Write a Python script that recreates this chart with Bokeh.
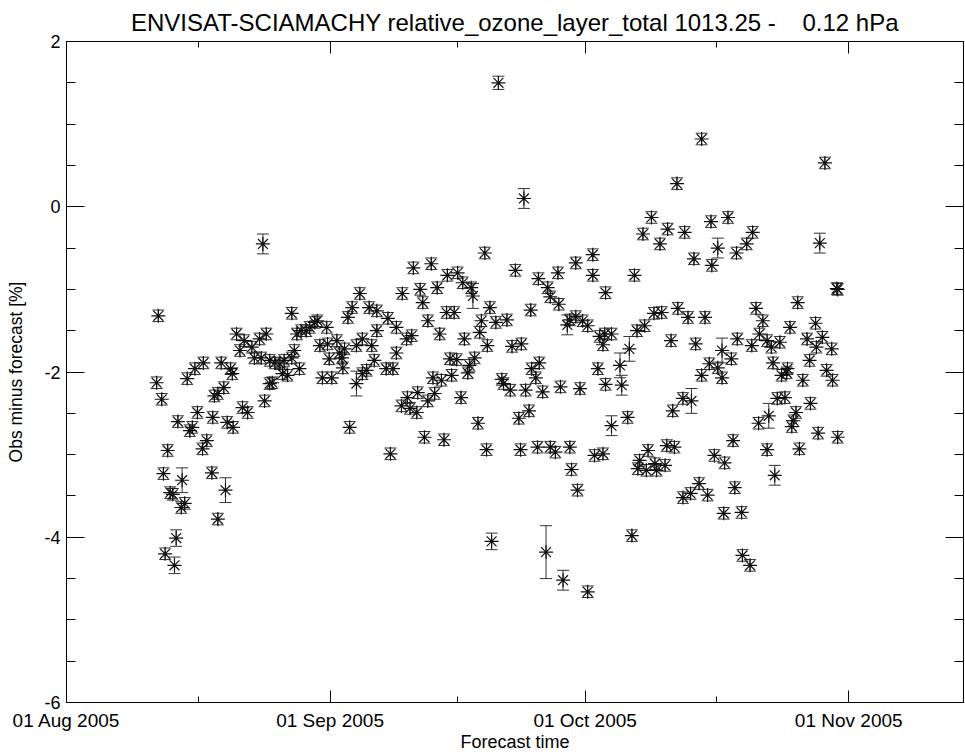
from datetime import datetime, timedelta
from bokeh.plotting import figure
from bokeh.models import (Range1d, FixedTicker, DatetimeTickFormatter, LinearAxis, DatetimeAxis,
                          ColumnDataSource, Whisker, TeeHead)
from bokeh.embed import file_html
from bokeh.resources import INLINE

# ---------------- data (days after 01 Aug 2005, obs-minus-forecast [%], error) ----------------
day_a = [10.8, 10.6, 11.2, 13.1, 11.9, 11.4, 13.6, 12.2, 12.5, 13.5, 13.9, 12.9, 11.6, 12.7, 15.4,
         14.5, 14.8, 16.5, 16.0, 17.1, 18.7, 17.8, 17.2, 18.9, 19.6, 14.2, 15.1, 16.1, 18.2, 19.3,
         19.5, 17.4, 17.8, 18.5, 20.7, 21.3, 20.0, 20.4, 20.9, 21.8, 22.1, 22.7]
omf_a = [-1.32, -2.13, -2.33, -2.60, -2.95, -3.23, -3.31, -3.46, -3.48, -3.64, -3.59, -4.01, -4.20,
         -4.34, -2.49, -2.71, -2.67, -2.83, -2.93, -3.22, -3.43, -3.78, -2.55, -2.61, -2.67, -2.08,
         -1.96, -1.89, -1.89, -1.96, -2.02, -2.29, -2.26, -2.19, -2.43, -2.49, -1.54, -1.74, -1.62,
         -1.70, -1.83, -1.60]
err_a = [0.07, 0.07, 0.07, 0.07, 0.07, 0.07, 0.15, 0.07, 0.07, 0.07, 0.07, 0.10, 0.07, 0.10, 0.07,
         0.07, 0.07, 0.07, 0.07, 0.07, 0.15, 0.07, 0.07, 0.07, 0.07, 0.07, 0.07, 0.07, 0.07, 0.07,
         0.07, 0.07, 0.07, 0.07, 0.07, 0.07, 0.07, 0.07, 0.07, 0.07, 0.07, 0.07]

day_b = [23.1, 23.5, 26.5, 23.3, 23.9, 24.2, 22.9, 23.9, 24.5, 25.1, 25.4, 26.0, 25.6, 26.5, 26.8,
         27.1, 27.4, 27.6, 28.2, 28.6, 29.2, 29.5, 29.8, 30.6, 30.1, 31.2, 30.9, 30.7, 31.8, 32.1,
         32.4, 32.7, 32.5, 33.1, 33.6, 34.5, 34.1, 34.8, 35.3, 35.6, 36.5, 34.1, 34.8, 35.9, 36.5,
         36.2, 33.3]
omf_b = [-0.45, -1.54, -1.29, -2.35, -2.14, -2.13, -1.83, -1.86, -1.89, -1.90, -2.02, -2.04, -1.86,
         -1.83, -1.74, -1.54, -1.96, -1.50, -1.50, -1.46, -1.40, -1.38, -1.68, -1.46, -2.07, -2.07,
         -1.84, -1.66, -1.62, -1.77, -1.83, -1.72, -1.95, -1.34, -1.22, -1.05, -2.14, -2.02, -1.98,
         -1.22, -1.26, -1.68, -1.60, -1.68, -1.50, -1.86, -2.67]
err_b = [0.12, 0.07, 0.07, 0.07, 0.07, 0.07, 0.07, 0.07, 0.07, 0.07, 0.07, 0.07, 0.07, 0.07, 0.07,
         0.07, 0.07, 0.07, 0.07, 0.07, 0.07, 0.07, 0.07, 0.07, 0.07, 0.07, 0.07, 0.07, 0.07, 0.07,
         0.07, 0.07, 0.07, 0.07, 0.07, 0.07, 0.15, 0.07, 0.07, 0.07, 0.07, 0.07, 0.07, 0.07, 0.07,
         0.07, 0.07]

day_c = [49.2, 40.8, 42.9, 39.5, 41.6, 41.9, 43.6, 44.8, 46.0, 46.6, 47.6, 47.8, 37.8, 38.8, 40.0,
         40.6, 38.8, 42.5, 43.9, 44.7, 45.6, 46.8, 48.8, 49.8, 48.6, 49.5, 37.6, 38.4, 45.1, 45.9,
         45.3, 47.4, 47.2, 48.0, 43.1, 44.1, 43.3, 42.5, 41.3, 40.1, 39.4, 40.4, 41.2, 46.4, 42.1,
         44.4, 38.1, 48.4, 49.4, 50.0]
omf_c = [-0.56, -0.74, -0.69, -1.05, -1.00, -1.16, -0.98, -0.83, -0.80, -0.92, -0.98, -1.08, -1.35,
         -1.46, -1.60, -1.56, -1.77, -1.38, -1.54, -1.28, -1.28, -1.60, -1.38, -1.22, -1.52, -1.68,
         -1.96, -1.96, -1.84, -1.85, -2.04, -1.92, -2.01, -1.83, -2.07, -2.10, -2.26, -2.35, -2.25,
         -2.31, -2.41, -2.44, -2.49, -2.31, -2.79, -2.82, -2.99, -2.62, -2.94, -4.05]
err_c = [0.07, 0.07, 0.07, 0.07, 0.07, 0.07, 0.07, 0.07, 0.07, 0.07, 0.07, 0.15, 0.07, 0.07, 0.07,
         0.07, 0.07, 0.07, 0.07, 0.07, 0.07, 0.07, 0.07, 0.07, 0.07, 0.07, 0.07, 0.07, 0.07, 0.07,
         0.07, 0.07, 0.07, 0.07, 0.07, 0.07, 0.07, 0.07, 0.07, 0.07, 0.07, 0.07, 0.07, 0.07, 0.07,
         0.07, 0.07, 0.07, 0.07, 0.10]

day_d = [50.8, 53.8, 52.8, 55.5, 57.8, 59.9, 61.9, 61.9, 63.4, 56.6, 56.9, 57.9, 54.6, 50.5, 51.8,
         59.2, 58.9, 59.9, 60.7, 61.3, 62.7, 63.3, 63.1, 62.5, 63.4, 52.4, 53.5, 54.7, 55.6, 55.2,
         51.2, 51.4, 52.2, 54.0, 56.0, 58.1, 60.4, 53.2, 54.4, 53.4, 55.4, 56.9, 57.5, 59.2, 59.4,
         60.1, 62.1, 63.1, 56.4, 58.4, 61.3]
omf_d = [1.50, 0.10, -0.77, -0.87, -0.80, -0.68, -0.58, -0.83, -1.04, -0.98, -1.09, -1.18, -1.25,
         -1.40, -1.37, -1.37, -1.43, -1.33, -1.38, -1.44, -1.57, -1.54, -1.67, -1.96, -2.15, -1.69,
         -1.66, -1.96, -1.89, -2.07, -2.09, -2.14, -2.22, -2.22, -2.24, -2.18, -2.20, -2.56, -2.47,
         -2.94, -2.91, -2.91, -2.97, -2.91, -3.18, -3.43, -3.01, -2.99, -4.18, -4.52, -4.66]
err_d = [0.08, 0.12, 0.07, 0.07, 0.07, 0.07, 0.07, 0.07, 0.07, 0.07, 0.07, 0.07, 0.07, 0.07, 0.07,
         0.07, 0.12, 0.07, 0.07, 0.07, 0.07, 0.07, 0.07, 0.07, 0.07, 0.07, 0.07, 0.07, 0.07, 0.07,
         0.07, 0.07, 0.07, 0.07, 0.07, 0.07, 0.07, 0.07, 0.07, 0.07, 0.07, 0.07, 0.07, 0.07, 0.07,
         0.07, 0.07, 0.07, 0.32, 0.12, 0.07]

day_e = [74.7, 71.8, 68.8, 67.8, 69.8, 70.7, 72.7, 75.8, 76.6, 73.8, 75.9, 66.8, 69.1, 70.0, 68.0,
         67.1, 64.1, 66.2, 71.9, 73.1, 75.1, 71.1, 74.0, 77.1, 65.1, 65.3, 75.6, 76.6, 74.7, 72.5,
         73.5, 71.3, 66.0, 64.1, 68.4, 67.4, 70.6, 71.5, 69.2, 68.2, 67.2, 70.4, 69.4, 76.2, 72.5,
         73.4, 74.4, 75.4, 66.5]
omf_e = [0.82, 0.28, -0.13, -0.33, -0.45, -0.27, -0.31, -0.18, -0.50, -0.63, -0.71, -0.83, -1.29,
         -1.28, -1.44, -1.50, -1.54, -1.72, -1.23, -1.34, -1.34, -1.62, -1.66, -1.74, -1.92, -2.16,
         -1.90, -1.95, -2.04, -2.32, -2.35, -2.47, -2.55, -2.65, -2.95, -3.07, -2.89, -2.91, -3.11,
         -3.19, -3.17, -3.13, -3.19, -3.01, -3.52, -3.47, -3.35, -3.49, -3.98]
err_e = [0.07, 0.07, 0.07, 0.07, 0.07, 0.07, 0.07, 0.07, 0.12, 0.07, 0.07, 0.07, 0.07, 0.07, 0.07,
         0.07, 0.07, 0.15, 0.07, 0.07, 0.07, 0.07, 0.07, 0.15, 0.15, 0.12, 0.07, 0.07, 0.07, 0.07,
         0.15, 0.07, 0.07, 0.12, 0.07, 0.07, 0.07, 0.07, 0.07, 0.07, 0.07, 0.07, 0.07, 0.07, 0.07,
         0.07, 0.07, 0.07, 0.07]

day_f = [89.2, 77.8, 78.8, 80.0, 80.7, 88.6, 90.6, 90.7, 86.0, 81.1, 81.9, 85.1, 88.1, 78.9, 80.6,
         81.5, 82.4, 82.9, 83.9, 87.1, 88.9, 88.2, 90.0, 78.2, 83.1, 87.4, 84.8, 84.1, 84.7, 86.6,
         89.4, 90.1, 77.1, 83.6, 84.5, 82.6, 81.4, 85.8, 85.5, 85.3, 87.5, 88.4, 90.7, 86.2, 82.4,
         78.4, 77.4, 83.3, 78.6, 77.3, 79.4, 79.5, 80.4]
omf_f = [0.53, -0.13, -0.56, -0.45, -0.31, -0.44, -0.99, -1.00, -1.16, -1.23, -1.38, -1.46, -1.41,
         -1.60, -1.68, -1.54, -1.62, -1.70, -1.64, -1.60, -1.58, -1.70, -1.72, -1.84, -1.89, -1.86,
         -1.96, -2.04, -2.01, -2.10, -1.98, -2.10, -2.07, -2.32, -2.31, -2.53, -2.62, -2.49, -2.59,
         -2.66, -2.38, -2.74, -2.79, -2.93, -2.94, -2.83, -3.10, -3.25, -3.40, -3.71, -3.70, -4.22,
         -4.34]
err_f = [0.07, 0.07, 0.07, 0.07, 0.07, 0.12, 0.07, 0.07, 0.07, 0.07, 0.07, 0.07, 0.07, 0.07, 0.07,
         0.07, 0.07, 0.07, 0.07, 0.07, 0.07, 0.07, 0.07, 0.07, 0.07, 0.07, 0.07, 0.07, 0.07, 0.07,
         0.07, 0.07, 0.07, 0.07, 0.07, 0.15, 0.07, 0.07, 0.07, 0.07, 0.07, 0.07, 0.07, 0.07, 0.07,
         0.07, 0.07, 0.12, 0.07, 0.07, 0.07, 0.07, 0.07]

x_major_dates = ["2005-08-01", "2005-09-01", "2005-10-01", "2005-11-01"]
x_minor_dates = ["2005-08-16 12:00", "2005-09-16 00:00", "2005-10-16 12:00"]
y_major = [-6, -4, -2, 0, 2]
y_major_labels = ["-6", "-4", "-2", "0", "2"]
y_minor = [-5.5, -5, -4.5, -3.5, -3, -2.5, -1.5, -1, -0.5, 0.5, 1, 1.5]

title_text = "ENVISAT-SCIAMACHY relative_ozone_layer_total 1013.25 -\u00a0\u00a0\u00a0 0.12 hPa"

# ---------------- assemble ----------------
base = datetime(2005, 8, 1)
epoch = datetime(1970, 1, 1)


def to_ms(dt):
    return (dt - epoch).total_seconds() * 1000.0


days = day_a + day_b + day_c + day_d + day_e + day_f
vals = omf_a + omf_b + omf_c + omf_d + omf_e + omf_f
errs = err_a + err_b + err_c + err_d + err_e + err_f
xs = [base + timedelta(days=d) for d in days]

src = ColumnDataSource(dict(x=xs, y=vals,
                            upper=[v + e for v, e in zip(vals, errs)],
                            lower=[v - e for v, e in zip(vals, errs)]))

x_major = [to_ms(datetime.fromisoformat(s)) for s in x_major_dates]
x_minor = [to_ms(datetime.fromisoformat(s)) for s in x_minor_dates]

FONT = "Liberation Sans"

p = figure(width=965, height=754, output_backend="svg", toolbar_location=None,
           x_axis_type="datetime",
           x_range=Range1d(base, base + timedelta(days=105.5)),
           y_range=Range1d(-6, 2),
           min_border_left=66, min_border_right=2, min_border_top=41, min_border_bottom=51)
p.grid.visible = False
p.outline_line_color = "black"
p.outline_line_width = 1
p.background_fill_color = "white"
p.border_fill_color = "white"

p.title.text = title_text
p.title.align = "center"
p.title.text_font = FONT
p.title.text_font_size = "24px"
p.title.text_font_style = "normal"
p.title.text_color = "black"
p.title.standoff = 12

fmt = DatetimeTickFormatter(days="%d %b %Y", months="%d %b %Y", years="%d %b %Y",
                            hours="%d %b %Y", minutes="%d %b %Y")

xa = p.xaxis[0]
xa.ticker = FixedTicker(ticks=x_major, minor_ticks=x_minor)
xa.formatter = fmt
xa.major_tick_in = 12
xa.major_tick_out = 0
xa.minor_tick_in = 6
xa.minor_tick_out = 0
xa.axis_line_color = "black"
xa.major_tick_line_color = "black"
xa.minor_tick_line_color = "black"
xa.major_label_text_font = FONT
xa.major_label_text_font_size = "19px"
xa.major_label_text_color = "black"
xa.major_label_standoff = 7
xa.axis_label = "Forecast time"
xa.axis_label_text_font = FONT
xa.axis_label_text_font_size = "18px"
xa.axis_label_text_font_style = "normal"
xa.axis_label_text_color = "black"
xa.axis_label_standoff = -2

ya = p.yaxis[0]
ya.ticker = FixedTicker(ticks=y_major, minor_ticks=y_minor)
ya.major_label_overrides = {t: s for t, s in zip(y_major, y_major_labels)}
ya.major_tick_in = 18
ya.major_tick_out = 0
ya.minor_tick_in = 9
ya.minor_tick_out = 0
ya.axis_line_color = "black"
ya.major_label_text_font = FONT
ya.major_label_text_font_size = "18px"
ya.major_label_text_color = "black"
ya.major_label_standoff = 6
ya.axis_label = "Obs minus forecast [%]"
ya.axis_label_text_font = FONT
ya.axis_label_text_font_size = "17.5px"
ya.axis_label_text_font_style = "normal"
ya.axis_label_text_color = "black"
ya.axis_label_standoff = 15

ra = LinearAxis(ticker=FixedTicker(ticks=y_major, minor_ticks=y_minor),
                major_tick_in=18, major_tick_out=0, minor_tick_in=9, minor_tick_out=0,
                major_label_text_font_size="1px", major_label_text_color=None,
                major_label_standoff=0, axis_line_color="black")
p.add_layout(ra, "right")

ta = DatetimeAxis(ticker=FixedTicker(ticks=x_major, minor_ticks=x_minor), formatter=fmt,
                  major_tick_in=12, major_tick_out=0, minor_tick_in=6, minor_tick_out=0,
                  major_label_text_font_size="1px", major_label_text_color=None,
                  major_label_standoff=0, axis_line_color="black")
p.add_layout(ta, "above")

whisk = Whisker(base="x", upper="upper", lower="lower", source=src, dimension="height",
                line_color="#333333", line_width=1,
                upper_head=TeeHead(size=12, line_color="#333333", line_width=1),
                lower_head=TeeHead(size=12, line_color="#333333", line_width=1))
p.add_layout(whisk)

p.scatter("x", "y", source=src, marker="asterisk", size=14, line_color="#111111",
          line_width=1.2)

open("out.html", "w").write(file_html(p, INLINE))
